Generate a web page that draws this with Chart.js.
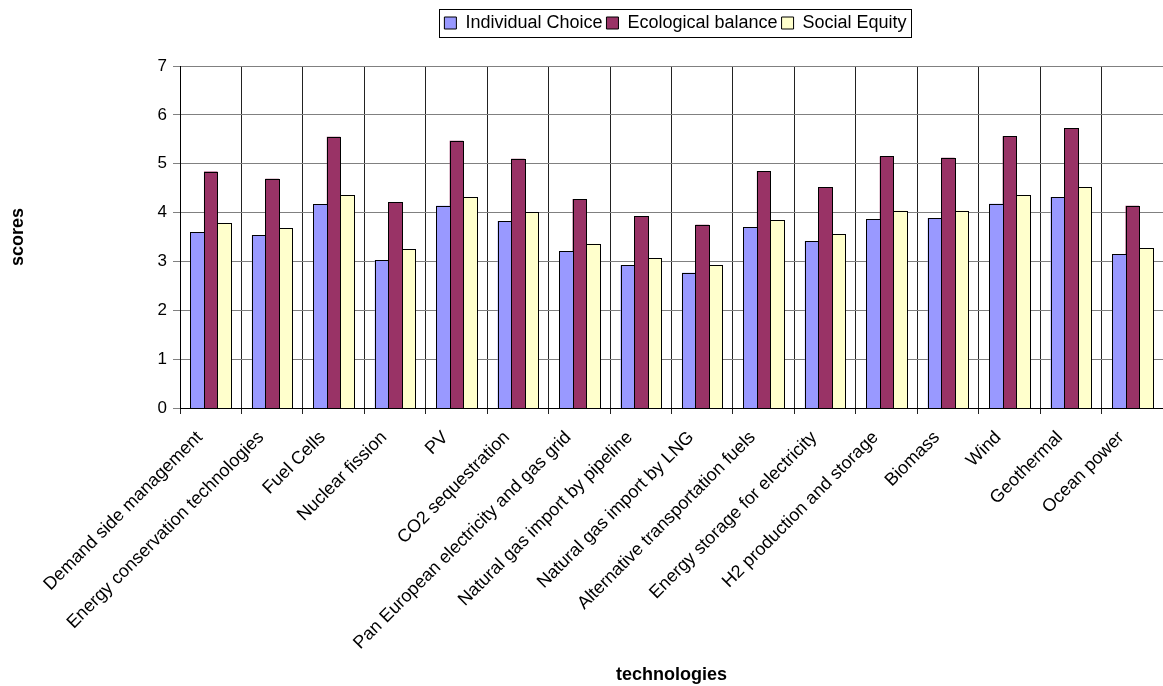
<!DOCTYPE html>
<html>
<head>
<meta charset="utf-8">
<title>Technology scores</title>
<script src="https://cdn.jsdelivr.net/npm/chart.js@4/dist/chart.umd.min.js"></script>
<style>
  html, body { margin: 0; padding: 0; background: #ffffff; }
  #wrap { width: 1163px; height: 686px; position: relative; }
</style>
</head>
<body>
<div id="wrap"><canvas id="chart" width="1163" height="686"></canvas></div>
<script>
// Technologies on the horizontal axis
const categories = [
  "Demand side management",
  "Energy conservation technologies",
  "Fuel Cells",
  "Nuclear fission",
  "PV",
  "CO2 sequestration",
  "Pan European electricity and gas grid",
  "Natural gas import by pipeline",
  "Natural gas import by LNG",
  "Alternative transportation fuels",
  "Energy storage for electricity",
  "H2 production and storage",
  "Biomass",
  "Wind",
  "Geothermal",
  "Ocean power"
];

// Scores per technology for each perspective
const individualChoice  = [3.60, 3.54, 4.17, 3.03, 4.14, 3.83, 3.21, 2.92, 2.77, 3.70, 3.42, 3.87, 3.89, 4.18, 4.32, 3.15];
const ecologicalBalance = [4.84, 4.69, 5.55, 4.21, 5.47, 5.10, 4.28, 3.93, 3.75, 4.85, 4.52, 5.15, 5.12, 5.56, 5.73, 4.14];
const socialEquity      = [3.78, 3.68, 4.36, 3.25, 4.32, 4.01, 3.36, 3.07, 2.92, 3.84, 3.56, 4.04, 4.04, 4.36, 4.52, 3.27];

const seriesNames = ["Individual Choice", "Ecological balance", "Social Equity"];
const seriesColors = ['#9999FF', '#993366', '#FFFFCC'];
const yTicks = [0, 1, 2, 3, 4, 5, 6, 7];

const FONT = "'Liberation Sans', Arial, Helvetica, sans-serif";

// Legend: fixed height block, centred over the plot, with a thin frame
const legendFrame = {
  id: 'legendFrame',
  beforeInit(chart) {
    const legend = chart.legend;
    const origFit = legend.fit;
    legend.fit = function () {
      origFit.call(this);
      this.height = 56;
    };
  },
  afterLayout(chart) {
    const legend = chart.legend;
    const ca = chart.chartArea;
    const dx = (ca.left + ca.right) / 2 - (legend.left + legend.right) / 2 + 4;
    legend.left += dx;
    legend.right += dx;
  },
  afterDraw(chart) {
    const boxes = chart.legend.legendHitBoxes;
    if (!boxes || !boxes.length) return;
    let l = Infinity, r = -Infinity, t = Infinity, b = -Infinity;
    boxes.forEach(h => {
      l = Math.min(l, h.left); r = Math.max(r, h.left + h.width);
      t = Math.min(t, h.top);  b = Math.max(b, h.top + h.height);
    });
    const ctx = chart.ctx;
    ctx.save();
    ctx.strokeStyle = '#000';
    ctx.lineWidth = 1;
    ctx.strokeRect(Math.round(l - 5) + 0.5, Math.round(t - 5) + 0.5, Math.round(r - l + 10), Math.round(b - t + 10));
    ctx.restore();
  }
};

// Re-paint each bar element on whole pixels so the black outline stays crisp
const crispBars = {
  id: 'crispBars',
  afterDatasetsDraw(chart) {
    const ctx = chart.ctx;
    const area = chart.chartArea;
    ctx.save();
    ctx.beginPath();
    ctx.rect(area.left, area.top - 1, area.right - area.left + 1, area.bottom - area.top + 2);
    ctx.clip();
    chart.data.datasets.forEach((ds, di) => {
      const meta = chart.getDatasetMeta(di);
      if (meta.hidden) return;
      meta.data.forEach(bar => {
        const p = bar.getProps(['x', 'y', 'base', 'width'], true);
        const l = Math.round(p.x - p.width / 2);
        const r = Math.round(p.x + p.width / 2);
        const t = Math.round(p.y);
        const b = Math.round(p.base);
        ctx.fillStyle = ds.backgroundColor;
        ctx.fillRect(l, t, r - l, b - t);
        ctx.strokeStyle = '#000';
        ctx.lineWidth = 1;
        ctx.strokeRect(l + 0.5, t + 0.5, r - l, b - t);
      });
    });
    ctx.restore();
  }
};

const mkSet = (label, data, color) => ({
  label: label,
  data: data,
  backgroundColor: color,
  borderColor: '#000000',
  borderWidth: 0,
  barPercentage: 1.0,
  categoryPercentage: 0.66
});

new Chart(document.getElementById('chart'), {
  type: 'bar',
  data: {
    labels: categories,
    datasets: [
      mkSet(seriesNames[0], individualChoice, seriesColors[0]),
      mkSet(seriesNames[1], ecologicalBalance, seriesColors[1]),
      mkSet(seriesNames[2], socialEquity, seriesColors[2])
    ]
  },
  options: {
    responsive: false,
    animation: false,
    devicePixelRatio: 1,
    layout: { padding: { top: 10, left: 0, right: 0, bottom: 0 } },
    plugins: {
      tooltip: { enabled: false },
      legend: {
        display: true,
        position: 'top',
        labels: {
          boxWidth: 12,
          boxHeight: 12,
          padding: 4,
          color: '#000',
          font: { family: FONT, size: 18 },
          generateLabels(chart) {
            const items = Chart.defaults.plugins.legend.labels.generateLabels(chart);
            items.forEach(it => { it.lineWidth = 1; it.strokeStyle = '#000'; });
            return items;
          }
        }
      }
    },
    scales: {
      x: {
        offset: true,
        grid: { display: true, offset: true, color: '#222', lineWidth: 1, tickLength: 6, drawTicks: true },
        border: { display: true, color: '#000', width: 1 },
        ticks: {
          autoSkip: false,
          maxRotation: 45,
          minRotation: 45,
          padding: 13,
          labelOffset: -11,
          color: '#000',
          font: { family: FONT, size: 18 }
        },
        title: {
          display: true,
          text: 'technologies',
          color: '#000',
          font: { family: FONT, size: 18, weight: 'bold' },
          padding: { top: 0, bottom: 0 }
        },
        afterFit(scale) { scale.height = 278; }
      },
      y: {
        min: 0,
        max: 7,
        afterBuildTicks(scale) { scale.ticks = yTicks.map(v => ({ value: v })); },
        grid: { display: true, color: '#808080', lineWidth: 1, tickLength: 7, drawTicks: true },
        border: { display: true, color: '#000', width: 1 },
        ticks: {
          padding: 6,
          color: '#000',
          font: { family: FONT, size: 17 }
        },
        title: {
          display: true,
          text: 'scores',
          color: '#000',
          font: { family: FONT, size: 18, weight: 'bold' },
          padding: { top: 7, bottom: 0 }
        },
        afterFit(scale) { scale.width = 180; }
      }
    }
  },
  plugins: [legendFrame, crispBars]
});
</script>
</body>
</html>
